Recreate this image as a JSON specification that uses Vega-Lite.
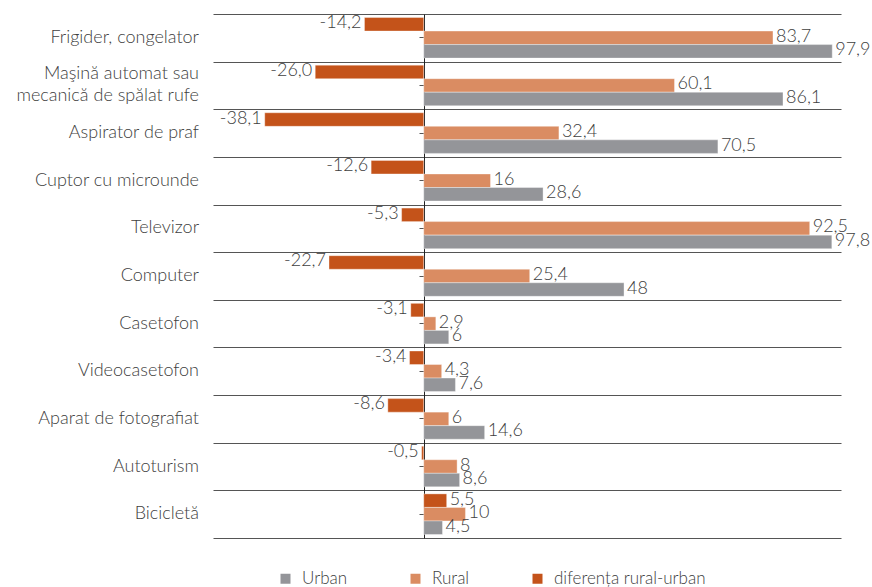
{
  "$schema": "https://vega.github.io/schema/vega-lite/v6.json",
  "width": 628,
  "height": 524,
  "autosize": {"type": "none"},
  "padding": {"left": 213, "top": 14, "right": 31, "bottom": 49},
  "config": {"view": {"stroke": null}, "font": "Lato"},
  "data": {"values": [
    {"cat": "Frigider, congelator", "series": "diferența rural-urban", "value": -14.2, "label": "-14,2"},
    {"cat": "Frigider, congelator", "series": "Rural", "value": 83.7, "label": "83,7"},
    {"cat": "Frigider, congelator", "series": "Urban", "value": 97.9, "label": "97,9"},
    {"cat": "Maşină automat sau|mecanică de spălat rufe", "series": "diferența rural-urban", "value": -26.0, "label": "-26,0"},
    {"cat": "Maşină automat sau|mecanică de spălat rufe", "series": "Rural", "value": 60.1, "label": "60,1"},
    {"cat": "Maşină automat sau|mecanică de spălat rufe", "series": "Urban", "value": 86.1, "label": "86,1"},
    {"cat": "Aspirator de praf", "series": "diferența rural-urban", "value": -38.1, "label": "-38,1"},
    {"cat": "Aspirator de praf", "series": "Rural", "value": 32.4, "label": "32,4"},
    {"cat": "Aspirator de praf", "series": "Urban", "value": 70.5, "label": "70,5"},
    {"cat": "Cuptor cu microunde", "series": "diferența rural-urban", "value": -12.6, "label": "-12,6"},
    {"cat": "Cuptor cu microunde", "series": "Rural", "value": 16, "label": "16"},
    {"cat": "Cuptor cu microunde", "series": "Urban", "value": 28.6, "label": "28,6"},
    {"cat": "Televizor\u00a0", "series": "diferența rural-urban", "value": -5.3, "label": "-5,3"},
    {"cat": "Televizor\u00a0", "series": "Rural", "value": 92.5, "label": "92,5"},
    {"cat": "Televizor\u00a0", "series": "Urban", "value": 97.8, "label": "97,8"},
    {"cat": "Computer", "series": "diferența rural-urban", "value": -22.7, "label": "-22,7"},
    {"cat": "Computer", "series": "Rural", "value": 25.4, "label": "25,4"},
    {"cat": "Computer", "series": "Urban", "value": 48, "label": "48"},
    {"cat": "Casetofon", "series": "diferența rural-urban", "value": -3.1, "label": "-3,1"},
    {"cat": "Casetofon", "series": "Rural", "value": 2.9, "label": "2,9"},
    {"cat": "Casetofon", "series": "Urban", "value": 6, "label": "6"},
    {"cat": "Videocasetofon", "series": "diferența rural-urban", "value": -3.4, "label": "-3,4"},
    {"cat": "Videocasetofon", "series": "Rural", "value": 4.3, "label": "4,3"},
    {"cat": "Videocasetofon", "series": "Urban", "value": 7.6, "label": "7,6"},
    {"cat": "Aparat de fotografiat", "series": "diferența rural-urban", "value": -8.6, "label": "-8,6"},
    {"cat": "Aparat de fotografiat", "series": "Rural", "value": 6, "label": "6"},
    {"cat": "Aparat de fotografiat", "series": "Urban", "value": 14.6, "label": "14,6"},
    {"cat": "Autoturism", "series": "diferența rural-urban", "value": -0.5, "label": "-0,5"},
    {"cat": "Autoturism", "series": "Rural", "value": 8, "label": "8"},
    {"cat": "Autoturism", "series": "Urban", "value": 8.6, "label": "8,6"},
    {"cat": "Bicicletă", "series": "diferența rural-urban", "value": 5.5, "label": "5,5"},
    {"cat": "Bicicletă", "series": "Rural", "value": 10, "label": "10"},
    {"cat": "Bicicletă", "series": "Urban", "value": 4.5, "label": "4,5"}
  ]},
  "layer": [
    {
      "mark": {"type": "bar", "stroke": "white", "strokeWidth": 0.6, "strokeOpacity": 0.6},
      "encoding": {
        "y": {"field": "cat", "type": "nominal", "sort": null, "scale": {"paddingInner": 0, "paddingOuter": 0},
          "axis": {"title": null, "domain": false, "ticks": false, "labels": false, "grid": true, "tickBand": "extent", "gridColor": "#555555", "gridWidth": 1}},
        "yOffset": {"field": "series", "type": "nominal", "sort": ["diferența rural-urban", "Rural", "Urban"], "scale": {"paddingInner": 0, "paddingOuter": 0.26}},
        "x": {"field": "value", "type": "quantitative", "scale": {"domain": [-50.5, 100], "nice": false, "zero": false},
          "axis": {"title": null, "labels": false, "ticks": false, "grid": false, "domain": true, "domainColor": "#555555"}},
        "color": {"field": "series", "type": "nominal",
          "scale": {"domain": ["Urban", "Rural", "diferența rural-urban"], "range": ["#949599", "#da8c62", "#c4531a"]},
          "legend": {"title": null, "orient": "none", "legendX": 64, "legendY": 556, "direction": "horizontal", "columns": 3,
            "symbolType": "square", "symbolSize": 100, "symbolStrokeWidth": 0, "labelFont": "Lato", "labelFontSize": 17, "labelFontWeight": 300,
            "labelColor": "#404040", "labelOffset": 8, "columnPadding": 59}}
      }
    },
    {
      "mark": {"type": "text", "font": "Lato", "fontSize": 18, "fontWeight": 300, "color": "#404040", "baseline": "middle", "dy": -1,
        "align": {"expr": "datum.value < 0 ? 'right' : 'left'"},
        "dx": {"expr": "datum.value < 0 ? -3 : 3"}},
      "encoding": {
        "y": {"field": "cat", "type": "nominal", "sort": null, "scale": {"paddingInner": 0, "paddingOuter": 0},
          "axis": {"title": null, "orient": "left", "offset": -211, "labels": false, "ticks": true, "tickSize": 5, "tickColor": "#555555",
            "domain": true, "domainColor": "#222222", "grid": false}},
        "yOffset": {"field": "series", "type": "nominal", "sort": ["diferența rural-urban", "Rural", "Urban"], "scale": {"paddingInner": 0, "paddingOuter": 0.26}},
        "x": {"field": "value", "type": "quantitative", "scale": {"domain": [-50.5, 100], "nice": false, "zero": false}, "axis": null},
        "text": {"field": "label"}
      }
    },
    {
      "transform": [{"filter": "datum.series == 'Urban'"}],
      "mark": {"type": "text", "font": "Lato", "fontSize": 18, "fontWeight": 300, "color": "#404040", "align": "right", "dx": -14,
        "lineBreak": "|", "lineHeight": 22,
        "baseline": {"expr": "indexof(datum.cat, '|') >= 0 ? 'line-bottom' : 'middle'"}},
      "encoding": {
        "y": {"field": "cat", "type": "nominal", "sort": null, "scale": {"paddingInner": 0, "paddingOuter": 0}, "axis": null},
        "x": {"datum": -50.5, "type": "quantitative", "scale": {"domain": [-50.5, 100], "nice": false, "zero": false}, "axis": null},
        "text": {"field": "cat"}
      }
    }
  ],
  "resolve": {"axis": {"y": "independent"}}
}
